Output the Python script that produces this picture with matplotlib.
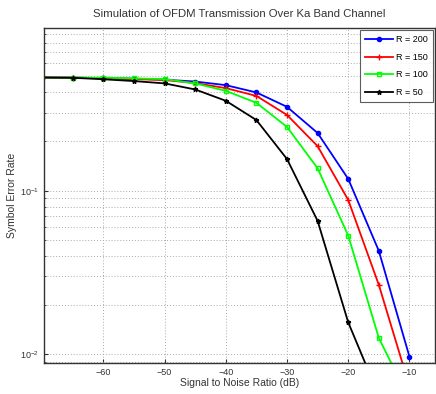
import matplotlib
matplotlib.use("Agg")
import matplotlib.pyplot as plt
from matplotlib.ticker import LogLocator, FixedLocator, NullFormatter

plt.rcParams['font.family'] = ['Liberation Sans', 'DejaVu Sans']

snr = [-70, -65, -60, -55, -50, -45, -40, -35, -30, -25, -20, -15, -10]
ser_200 = [0.491, 0.490, 0.487, 0.483, 0.476, 0.464, 0.441, 0.398, 0.325, 0.225, 0.118, 0.0429, 0.0097]
ser_150 = [0.491, 0.490, 0.486, 0.480, 0.474, 0.454, 0.423, 0.379, 0.290, 0.187, 0.0878, 0.0266, 0.0064]
ser_100 = [0.491, 0.490, 0.490, 0.485, 0.480, 0.452, 0.407, 0.344, 0.245, 0.137, 0.0532, 0.0126, 0.0053]
ser_50 = [0.491, 0.489, 0.479, 0.467, 0.452, 0.415, 0.354, 0.270, 0.156, 0.0654, 0.0157, 0.0056, 0.0020]
labels = ["R = 200", "R = 150", "R = 100", "R = 50"]
x_ticks = [-60, -50, -40, -30, -20, -10]

fig = plt.figure(figsize=(4.36, 3.94), dpi=100)
ax = fig.add_axes([44/436, 1 - 362.7/394, (436 - 44)/436 - 0.002, (362.7 - 28)/394])

series = [ser_200, ser_150, ser_100, ser_50]
styles = [("#0000ff", "o", "full", 3.0), ("#ff0000", "+", "full", 4.5),
          ("#00ff00", "s", "none", 3.5), ("#000000", "*", "full", 3.5)]
for y, lab, (c, m, fs, ms) in zip(series, labels, styles):
    ax.plot(snr, y, color=c, marker=m, fillstyle=fs, markersize=ms,
            linewidth=1.3, label=lab, markeredgewidth=1.0)

ax.set_yscale('log')
ax.set_xlim(-69.7, -5.8)
ax.set_ylim(0.0089, 0.985)
ax.xaxis.set_major_locator(FixedLocator(x_ticks))
ax.yaxis.set_major_locator(LogLocator(base=10, numticks=10))
ax.yaxis.set_minor_locator(LogLocator(base=10, subs=range(2, 10), numticks=20))
ax.yaxis.set_minor_formatter(NullFormatter())
ax.tick_params(which='both', direction='in', labelsize=6.5, colors='#333333')
ax.tick_params(which='major', length=3)
ax.tick_params(which='minor', length=1.5)
ax.grid(True, which='major', linestyle=(0, (1, 2)), color='#aaaaaa', linewidth=0.7)
ax.grid(True, which='minor', axis='y', linestyle=(0, (1, 2)), color='#aaaaaa', linewidth=0.7)
for s in ax.spines.values():
    s.set_linewidth(1.0)
    s.set_color('#333333')

ax.set_title("Simulation of OFDM Transmission Over Ka Band Channel", fontsize=8.2, color='#333333', pad=8)
ax.set_xlabel("Signal to Noise Ratio (dB)", fontsize=7.5, color='#333333', labelpad=1)
ax.set_ylabel("Symbol Error Rate", fontsize=7.5, color='#333333', labelpad=2)

leg = ax.legend(loc='upper right', fontsize=6.5, frameon=True, fancybox=False,
                edgecolor='#333333', handlelength=3.2, borderaxespad=0.25,
                labelspacing=0.95, handletextpad=0.3, borderpad=0.55)
leg.get_frame().set_linewidth(0.8)

fig.savefig("out.png", dpi=100)
